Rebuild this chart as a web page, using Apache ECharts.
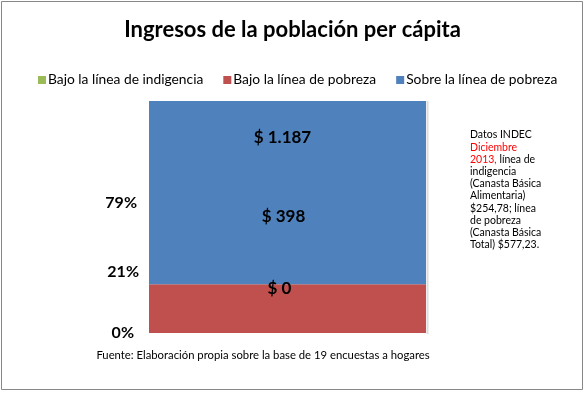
<!DOCTYPE html>
<html>
<head>
<meta charset="utf-8">
<script src="https://cdn.jsdelivr.net/npm/echarts@6/dist/echarts.min.js"></script>
<style>html,body{margin:0;padding:0;background:#fff}#c{width:585px;height:393px}</style>
</head>
<body>
<div id="c"></div>
<script>
const categories = ['Ingresos'];
const seriesNames = ['Bajo la línea de indigencia', 'Bajo la línea de pobreza', 'Sobre la línea de pobreza'];
const shares = [0, 0.21, 0.79];
const incomeLabels = ['$ 0', '$ 398', '$ 1.187'];
const pctLabels = ['0%', '21%', '79%'];
const colors = ['#9BBB59', '#C0504D', '#4F81BD'];

const FONT = 'Lato';
const chart = echarts.init(document.getElementById('c'));

// stacking order (bottom to top): pobreza, indigencia, sobre
const stackOrder = [1, 0, 2];
const labelOffsets = { 0: [-8, 4], 1: [-4, -92], 2: [-5, -55] };

const series = stackOrder.map(i => ({
  name: seriesNames[i],
  type: 'bar',
  stack: 'total',
  barWidth: '100%',
  data: [shares[i]],
  itemStyle: { color: colors[i] },
  label: {
    show: true,
    position: 'inside',
    offset: labelOffsets[i],
    formatter: () => incomeLabels[i],
    color: '#000',
    fontFamily: FONT,
    fontWeight: 'bold',
    fontSize: 17
  },
  emphasis: { disabled: true }
}));

chart.setOption({
  animation: false,
  textStyle: { fontFamily: FONT },
  title: {
    text: 'Ingresos de la población per cápita',
    left: 'center',
    top: 14,
    textStyle: { fontFamily: FONT, fontSize: 22, fontWeight: 'bold', color: '#000' }
  },
  legend: {
    data: seriesNames,
    top: 68,
    left: 33,
    icon: 'rect',
    itemWidth: 8,
    itemHeight: 8,
    itemGap: 20,
    textStyle: { fontFamily: FONT, fontSize: 13.8, color: '#000', padding: [0, 0, 0, -3] }
  },
  grid: { left: 149, right: 159, top: 101, bottom: 60 },
  xAxis: {
    type: 'category',
    data: categories,
    show: false
  },
  yAxis: {
    type: 'value',
    min: 0,
    max: 1,
    show: false
  },
  series: series,
  graphic: [
    { type: 'rect', shape: { x: 1.5, y: 1.5, width: 581, height: 388 }, style: { fill: 'none', stroke: '#888', lineWidth: 1 } },
    { type: 'line', shape: { x1: 427.5, y1: 101, x2: 427.5, y2: 334 }, style: { stroke: '#ddd', lineWidth: 2 } },
    { type: 'text', style: { text: pctLabels[2], x: 137, y: 203, textAlign: 'right', textVerticalAlign: 'middle', font: 'bold 16px ' + FONT, fill: '#000' } },
    { type: 'text', style: { text: pctLabels[1], x: 139, y: 272, textAlign: 'right', textVerticalAlign: 'middle', font: 'bold 16px ' + FONT, fill: '#000' } },
    { type: 'text', style: { text: pctLabels[0], x: 134, y: 333, textAlign: 'right', textVerticalAlign: 'middle', font: 'bold 16px ' + FONT, fill: '#000' } },
    { type: 'text', style: { text: 'Fuente: Elaboración propia sobre la base de 19 encuestas a hogares', x: 263, y: 355, textAlign: 'center', textVerticalAlign: 'middle', font: '11.3px ' + FONT, fill: '#000' } },
    {
      type: 'text',
      left: 470,
      top: 129,
      style: {
        text: 'Datos INDEC\n{r|Diciembre}\n{r|2013,} línea de\nindigencia\n(Canasta Básica\nAlimentaria)\n$254,78; línea\nde pobreza\n(Canasta Básica\nTotal) $577,23.',
        font: '10.5px ' + FONT,
        fill: '#000',
        lineHeight: 12.2,
        rich: { r: { fill: '#FF0000', font: '10.5px ' + FONT, lineHeight: 12.2 } }
      }
    }
  ]
});
</script>
</body>
</html>
